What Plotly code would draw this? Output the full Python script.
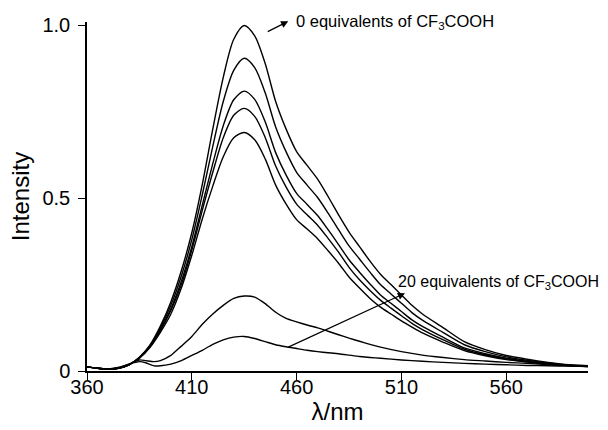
import plotly.graph_objects as go

# wavelength grids (nm)
x_main = [360, 365, 370, 375, 380, 385, 390, 395, 400, 405, 410, 415, 420, 425, 430, 435,
          440, 445, 450, 455, 460, 465, 470, 475, 480, 485, 490, 495, 500, 505, 510, 515, 520,
          530, 540, 550, 560, 570, 580, 590, 599]
x_small = [360, 365, 370, 375, 380, 385, 388, 392, 395, 400, 405, 410, 415, 420, 425, 430, 435,
           440, 445, 450, 455, 460, 465, 470, 475, 480, 485, 490, 495, 500,
           510, 520, 530, 540, 550, 560, 570, 580, 590, 599]

# intensities (0 equivalents ... 20 equivalents of CF3COOH)
eq_a = [.012, .008, .005, .008, .018, .040, .075, .130, .200, .290, .400, .540, .700, .850, .960, 1.000,
        .970, .890, .780, .700, .635, .595, .555, .505, .452, .402, .360, .318, .280, .250, .220, .190, .165,
        .125, .085, .062, .045, .034, .025, .018, .015]
eq_b = [.012, .008, .005, .008, .018, .039, .073, .125, .190, .275, .380, .510, .650, .780, .870, .905,
        .878, .805, .706, .634, .575, .538, .502, .457, .409, .362, .324, .286, .250, .223, .196, .169, .147,
        .111, .076, .056, .041, .031, .023, .017, .014]
eq_c = [.012, .008, .005, .008, .018, .038, .071, .120, .180, .260, .360, .480, .600, .710, .785, .810,
        .786, .721, .632, .567, .514, .482, .450, .409, .366, .322, .286, .252, .220, .196, .172, .148, .129,
        .097, .067, .050, .037, .028, .021, .016, .014]
eq_d = [.012, .008, .005, .008, .018, .038, .070, .117, .175, .250, .350, .465, .575, .675, .740, .760,
        .737, .676, .593, .532, .483, .452, .422, .384, .344, .300, .264, .233, .205, .182, .160, .138, .120,
        .090, .063, .047, .035, .027, .020, .016, .013]
eq_e = [.012, .008, .005, .008, .018, .037, .068, .112, .165, .240, .335, .440, .535, .620, .675, .690,
        .669, .614, .538, .483, .438, .411, .383, .348, .312, .272, .240, .210, .185, .165, .145, .127, .110,
        .083, .059, .044, .033, .026, .020, .015, .013]
eq_f = [.012, .008, .006, .010, .020, .032, .030, .027, .030, .045, .072, .100, .135, .165, .190, .210, .217,
        .214, .195, .170, .152, .142, .133, .125, .115, .105, .095, .086, .077, .069,
        .056, .046, .039, .033, .029, .025, .022, .019, .017, .015]
eq_g = [.012, .008, .006, .010, .020, .027, .024, .015, .015, .020, .030, .045, .060, .077, .090, .098, .100,
        .094, .085, .076, .070, .065, .060, .056, .053, .050, .046, .042, .039, .037,
        .032, .028, .025, .022, .020, .018, .016, .015, .014, .013]

x_ticks = [360, 410, 460, 510, 560]
y_ticks = [0, 0.5, 1.0]
y_tick_text = ["0", "0.5", "1.0"]

fig = go.Figure()
for ys in [eq_a, eq_b, eq_c, eq_d, eq_e]:
    fig.add_trace(go.Scatter(x=x_main, y=ys, mode="lines",
                             line=dict(color="black", width=1.4, shape="spline", smoothing=0.8),
                             showlegend=False, hoverinfo="skip"))
for ys in [eq_f, eq_g]:
    fig.add_trace(go.Scatter(x=x_small, y=ys, mode="lines",
                             line=dict(color="black", width=1.4, shape="spline", smoothing=0.6),
                             showlegend=False, hoverinfo="skip"))

font_family = "Liberation Sans, Arial, sans-serif"

fig.add_annotation(x=456, y=1.012, ax=445.5, ay=0.98, xref="x", yref="y", axref="x", ayref="y",
                   text="", showarrow=True, arrowhead=2, arrowsize=1.2, arrowwidth=1.2, arrowcolor="black")
fig.add_annotation(x=459.3, y=1.009, xref="x", yref="y", text="0 equivalents of CF<sub>3</sub>COOH",
                   showarrow=False, xanchor="left", yanchor="middle", borderpad=0,
                   font=dict(size=16.5, color="black", family=font_family))
fig.add_annotation(x=511.7, y=0.225, ax=455.3, ay=0.067, xref="x", yref="y", axref="x", ayref="y",
                   text="", showarrow=True, arrowhead=2, arrowsize=1.2, arrowwidth=1.2, arrowcolor="black")
fig.add_annotation(x=507.7, y=0.257, xref="x", yref="y", text="20 equivalents of CF<sub>3</sub>COOH",
                   showarrow=False, xanchor="left", yanchor="middle", borderpad=0,
                   font=dict(size=16, color="black", family=font_family))

fig.update_layout(
    width=608, height=430,
    margin=dict(l=87, r=20, t=22, b=59, autoexpand=False),
    paper_bgcolor="white", plot_bgcolor="white",
    font=dict(family=font_family, color="black"),
    xaxis=dict(range=[360, 599], tickvals=x_ticks, ticks="outside", ticklen=7, tickwidth=1.3,
               tickcolor="black", showline=True, linecolor="black", linewidth=1.5,
               showgrid=False, zeroline=False, tickfont=dict(size=20), automargin=False,
               ticklabelstandoff=-10,
               title=dict(text="λ/nm", font=dict(size=24), standoff=0)),
    yaxis=dict(range=[0, 1.01], tickvals=y_ticks, ticktext=y_tick_text, ticks="outside", ticklen=7,
               tickwidth=1.3, tickcolor="black", showline=True, linecolor="black", linewidth=1.5,
               showgrid=False, zeroline=False, tickfont=dict(size=20), ticklabelstandoff=4,
               automargin=False,
               title=dict(text="Intensity", font=dict(size=24), standoff=6)),
)

fig.write_html("out.html", config={"displayModeBar": False},
               post_script="document.body.style.margin='0';document.body.style.overflow='hidden';")
